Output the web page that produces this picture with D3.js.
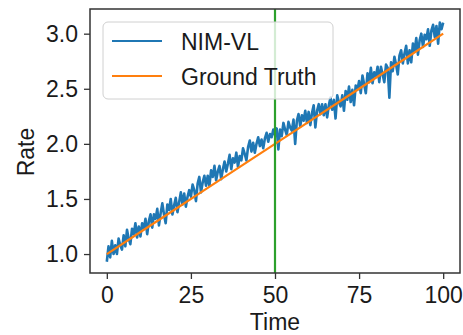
<!DOCTYPE html>
<html>
<head>
<meta charset="utf-8">
<script src="https://cdn.jsdelivr.net/npm/d3@7"></script>
<style>
  body { margin: 0; background: #fff; }
  text { font-family: "Liberation Sans", Arial, sans-serif; fill: #1a1a1a; }
</style>
</head>
<body>
<script>
// NIM-VL estimate, sampled every 0.5 time units from t = 0 to t = 100
var timeStep = 0.5;
var nimValues = [
  0.93, 1.07, 0.97, 1.12, 1.00, 1.08, 1.00, 1.14, 1.08, 1.04,
  1.17, 1.07, 1.22, 1.14, 1.09, 1.23, 1.18, 1.28, 1.15, 1.25,
  1.16, 1.28, 1.23, 1.32, 1.18, 1.30, 1.36, 1.24, 1.36, 1.32,
  1.41, 1.26, 1.37, 1.46, 1.36, 1.28, 1.45, 1.40, 1.50, 1.36,
  1.44, 1.51, 1.38, 1.47, 1.56, 1.45, 1.55, 1.43, 1.52, 1.58,
  1.52, 1.63, 1.58, 1.48, 1.64, 1.70, 1.56, 1.65, 1.71, 1.62,
  1.71, 1.62, 1.76, 1.70, 1.80, 1.67, 1.75, 1.80, 1.68, 1.77,
  1.84, 1.75, 1.82, 1.90, 1.77, 1.87, 1.83, 1.92, 1.79, 1.89,
  1.85, 1.96, 1.91, 1.85, 1.97, 2.03, 1.93, 2.01, 1.92, 2.00,
  2.06, 1.98, 2.04, 1.96, 2.05, 2.10, 2.02, 2.09, 2.06, 2.13,
  2.08, 2.14, 1.95, 2.13, 2.07, 2.19, 2.13, 2.08, 2.20, 2.15,
  2.12, 2.22, 2.00, 2.21, 2.27, 2.16, 2.26, 2.21, 2.30, 2.19,
  2.29, 2.17, 2.28, 2.35, 2.15, 2.30, 2.36, 2.27, 2.36, 2.26,
  2.36, 2.24, 2.35, 2.42, 2.31, 2.40, 2.23, 2.44, 2.38, 2.34,
  2.44, 2.30, 2.48, 2.40, 2.52, 2.38, 2.49, 2.35, 2.53, 2.49,
  2.57, 2.46, 2.62, 2.54, 2.46, 2.64, 2.56, 2.69, 2.55, 2.65,
  2.61, 2.70, 2.56, 2.70, 2.63, 2.56, 2.72, 2.69, 2.42, 2.74,
  2.66, 2.79, 2.72, 2.63, 2.80, 2.85, 2.73, 2.82, 2.89, 2.73,
  2.85, 2.74, 2.91, 2.84, 2.96, 2.81, 2.94, 3.00, 2.88, 2.99,
  2.95, 3.04, 2.89, 3.03, 3.08, 2.97, 3.07, 2.91, 3.10, 3.04,
  3.10
];

// Ground truth rate
var truthTimes = [0, 10, 20, 30, 40, 50, 60, 70, 80, 90, 100];
var truthValues = [1.0, 1.2, 1.4, 1.6, 1.8, 2.0, 2.2, 2.4, 2.6, 2.8, 3.0];

var changeTime = 50;
var xTicks = [0, 25, 50, 75, 100];
var yTicks = [1.0, 1.5, 2.0, 2.5, 3.0];
var seriesNames = ["NIM-VL", "Ground Truth"];
var seriesColors = ["#1f77b4", "#ff7f0e"];

var margin = { top: 9, right: 3, bottom: 62, left: 90 },
  width = 463 - margin.left - margin.right,
  height = 335 - margin.top - margin.bottom;

var svg = d3.select("body")
  .append("svg")
  .attr("width", 463)
  .attr("height", 335);

var g = svg.append("g")
  .attr("transform", "translate(" + margin.left + "," + margin.top + ")");

var x = d3.scaleLinear().domain([-5, 105]).range([0, width]);
var y = d3.scaleLinear().domain([0.828, 3.224]).range([height, 0]);

var nimData = nimValues.map(function (v, i) { return [i * timeStep, v]; });
var truthData = truthTimes.map(function (t, i) { return [t, truthValues[i]]; });

var line = d3.line()
  .x(function (d) { return x(d[0]); })
  .y(function (d) { return y(d[1]); });

var plot = g.append("g");

plot.append("path")
  .datum(nimData)
  .attr("d", line)
  .attr("fill", "none")
  .attr("stroke", seriesColors[0])
  .attr("stroke-width", 2.6)
  .attr("stroke-linejoin", "round");

plot.append("path")
  .datum(truthData)
  .attr("d", line)
  .attr("fill", "none")
  .attr("stroke", seriesColors[1])
  .attr("stroke-width", 2.2);

plot.append("line")
  .attr("x1", x(changeTime)).attr("x2", x(changeTime))
  .attr("y1", 0).attr("y2", height)
  .attr("stroke", "#2ca02c")
  .attr("stroke-width", 2.2);

// axes
var xAxis = g.append("g")
  .attr("transform", "translate(0," + height + ")")
  .call(d3.axisBottom(x).tickValues(xTicks).tickSize(6).tickPadding(8).tickFormat(d3.format("d")));

var yAxis = g.append("g")
  .call(d3.axisLeft(y).tickValues(yTicks).tickSize(6).tickPadding(6).tickFormat(d3.format(".1f")));

[xAxis, yAxis].forEach(function (a) {
  a.select(".domain").remove();
  a.selectAll("line").attr("stroke", "#333").attr("stroke-width", 1.3);
  a.selectAll("text").style("font-size", "23px").attr("fill", "#1a1a1a");
});

// frame
g.append("rect")
  .attr("width", width).attr("height", height)
  .attr("fill", "none")
  .attr("stroke", "#333")
  .attr("stroke-width", 1.5);

// legend
var legend = g.append("g").attr("transform", "translate(13,13)");

legend.append("rect")
  .attr("width", 230).attr("height", 77)
  .attr("rx", 5)
  .attr("fill", "#fff").attr("fill-opacity", 0.8)
  .attr("stroke", "#d0d0d0");

seriesNames.forEach(function (name, i) {
  var ly = 19 + i * 35;
  legend.append("line")
    .attr("x1", 9).attr("x2", 59)
    .attr("y1", ly).attr("y2", ly)
    .attr("stroke", seriesColors[i])
    .attr("stroke-width", 2.2);
  legend.append("text")
    .attr("x", 78).attr("y", ly + 9)
    .style("font-size", "23px")
    .text(name);
});

// axis labels
svg.append("text")
  .attr("x", margin.left + width / 2)
  .attr("y", 330)
  .attr("text-anchor", "middle")
  .style("font-size", "23px")
  .text("Time");

svg.append("text")
  .attr("transform", "translate(34,152) rotate(-90)")
  .attr("text-anchor", "middle")
  .style("font-size", "23px")
  .text("Rate");
</script>
</body>
</html>
